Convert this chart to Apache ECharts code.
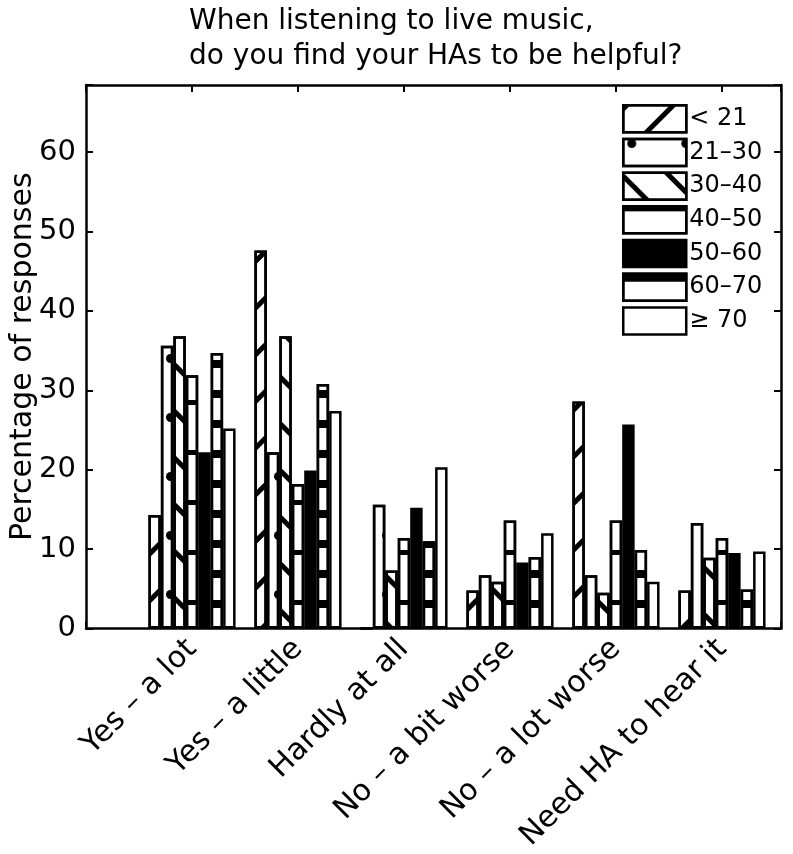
<!DOCTYPE html>
<html>
<head>
<meta charset="utf-8">
<script src="https://cdn.jsdelivr.net/npm/echarts@6/dist/echarts.min.js"></script>
<style>
html,body{margin:0;padding:0;background:#fff;}
#chart{width:793px;height:854px;}
</style>
</head>
<body>
<div id="chart"></div>
<script>
// ---- data ----
const titleLines = ['When listening to live music,', 'do you find your HAs to be helpful?'];
const yAxisName = 'Percentage of responses';
const categories = ['Yes – a lot', 'Yes – a little', 'Hardly at all', 'No – a bit worse', 'No – a lot worse', 'Need HA to hear it'];
const groupNames = ['< 21', '21–30', '30–40', '40–50', '50–60', '60–70', '≥ 70'];
const ageUnder21 = [14.3, 47.6, 0, 4.8, 28.6, 4.8];
const age21to30  = [35.6, 22.2, 15.6, 6.7, 6.7, 13.3];
const age30to40  = [36.8, 36.8, 7.3, 5.9, 4.5, 8.9];
const age40to50  = [31.9, 18.2, 11.4, 13.6, 13.6, 11.4];
const age50to60  = [22.2, 19.9, 15.2, 8.3, 25.7, 9.5];
const age60to70  = [34.7, 30.8, 11.0, 9.0, 9.9, 4.9];
const age70plus  = [25.2, 27.4, 20.3, 12.0, 5.9, 9.7];
const yTicks = [0, 10, 20, 30, 40, 50, 60];

const seriesValues = [ageUnder21, age21to30, age30to40, age40to50, age50to60, age60to70, age70plus];

// ---- styles ----
const FONT = 'DejaVu Sans';
const decals = [
  {symbol:'rect', symbolSize:1, color:'#000', dashArrayX:[1,0], dashArrayY:[5,28], rotation: -Math.PI/4},
  {symbol:'circle', symbolSize:1, color:'#000', dashArrayX:[0,3.6,9,40.4], dashArrayY:[9,50], rotation:0},
  {symbol:'rect', symbolSize:1, color:'#000', dashArrayX:[1,0], dashArrayY:[5,28], rotation: Math.PI/4},
  {symbol:'rect', symbolSize:1, color:'#000', dashArrayX:[1,0], dashArrayY:[5,45], rotation:0},
  null,
  {symbol:'rect', symbolSize:1, color:'#000', dashArrayX:[1,0], dashArrayY:[8,22], rotation:0},
  null
];
const fills = ['#fff','#fff','#fff','#fff','#000','#fff','#fff'];

const XMAX = 6.557;
const YMAX = 68.45;
const BARW = 12.45;

const series = seriesValues.map((vals, i) => {
  const is = {color: fills[i], borderColor:'#000', borderWidth:2.5};
  if (decals[i]) is.decal = decals[i];
  return {
    name: groupNames[i],
    type: 'bar',
    xAxisIndex: 0,
    yAxisIndex: 0,
    barWidth: BARW,
    barGap: '0%',
    data: vals.map((v, j) => [j + 1, v]),
    itemStyle: is,
    emphasis: {disabled: true},
    animation: false
  };
});

const chart = echarts.init(document.getElementById('chart'), null, {renderer:'canvas'});
const axisLine = {show:true, onZero:false, lineStyle:{color:'#000', width:2.5}};
const axisTick = {show:true, inside:true, length:7, lineStyle:{color:'#000', width:2}};

chart.setOption({
  backgroundColor:'#fff',
  animation:false,
  aria: {enabled: false},
  title: {
    text: titleLines.join('\n'),
    left: 184, top: -1,
    textStyle: {fontFamily: FONT, fontSize: 28, fontWeight:'normal', color:'#000', lineHeight: 35}
  },
  legend: {
    orient:'vertical',
    left: 622, top: 104,
    padding: 0,
    itemWidth: 63, itemHeight: 27,
    itemGap: 4.2,
    icon: 'rect',
    textStyle: {fontFamily: FONT, fontSize: 24, color:'#000', lineHeight: 27, padding:[0,0,0,-2]},
    itemStyle: {borderColor:'#000', borderWidth:2.5},
    selectedMode: false,
    data: groupNames
  },
  grid: {left: 86, top: 85, width: 695, height: 543.5, containLabel:false, outerBoundsMode:'none'},
  xAxis: [
    {
      type:'value', min:0, max:XMAX, interval:1, position:'bottom',
      axisLine, axisTick,
      splitLine:{show:false},
      axisLabel:{
        rotate:45, margin:16, color:'#000', fontFamily:FONT, fontSize:30,
        formatter: v => (Number.isInteger(v) && v >= 1 && v <= categories.length) ? categories[v-1] : ''
      }
    },
    {
      type:'value', min:0, max:XMAX, interval:1, position:'top',
      axisLine, axisTick, splitLine:{show:false}, axisLabel:{show:false}
    }
  ],
  yAxis: [
    {
      type:'value', min:0, max:YMAX, interval:10, position:'left',
      axisLine, axisTick, splitLine:{show:false},
      name: yAxisName, nameLocation:'middle', nameGap: 48, nameRotate: 90,
      nameMoveOverlap: false,
      nameTextStyle:{fontFamily:FONT, fontSize:30, color:'#000'},
      axisLabel:{
        margin:10, color:'#000', fontFamily:FONT, fontSize:29,
        formatter: v => yTicks.includes(v) ? String(v) : ''
      }
    },
    {
      type:'value', min:0, max:YMAX, interval:10, position:'right',
      axisLine, axisTick, splitLine:{show:false}, axisLabel:{show:false}
    }
  ],
  series
});
</script>
</body>
</html>
